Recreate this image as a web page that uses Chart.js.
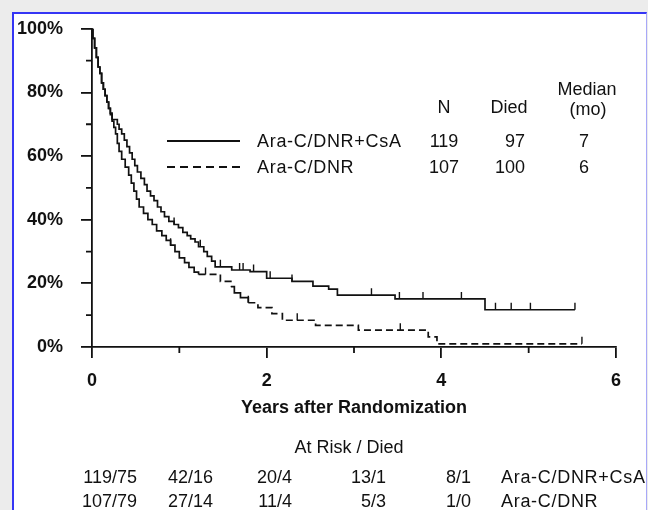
<!DOCTYPE html>
<html>
<head>
<meta charset="utf-8">
<script src="https://cdn.jsdelivr.net/npm/chart.js@4.4.1/dist/chart.umd.min.js"></script>
<style>
  html, body { margin: 0; padding: 0; }
  body { width: 648px; height: 510px; background: #ececec; position: relative; overflow: hidden;
         font-family: "Liberation Sans", Arial, sans-serif; color: #111; }
  #frame { position: absolute; left: 12px; top: 12px; width: 632px; height: 520px; background: #fff;
           border-left: 2px solid #3535f5; border-top: 2px solid #3535f5; border-right: 1px solid #a8a8f8; }
  #km { position: absolute; left: 0; top: 0; }
  .t { position: absolute; font-size: 18px; line-height: 18px; white-space: nowrap; }
  .g { letter-spacing: 0.7px; }
  .c { transform: translateX(-50%); }
  .r { transform: translateX(-100%); }
  .ln { position: absolute; height: 2px; }
</style>
</head>
<body>
<div id="frame"></div>
<canvas id="km" width="648" height="510"></canvas>
<div id="txt"></div>
<script>
// groups and summary table
const groups = ['Ara-C/DNR+CsA', 'Ara-C/DNR'];
const nPatients = [119, 107];
const nDied = [97, 100];
const medianMo = [7, 6];

// at risk / died under the axis
const riskCsA = ['119/75', '42/16', '20/4', '13/1', '8/1'];
const riskDNR = ['107/79', '27/14', '11/4', '5/3', '1/0'];

// Kaplan-Meier steps (years, % surviving)
const timeCsA = [0, 0.01, 0.03, 0.05, 0.07, 0.09, 0.11, 0.13, 0.15, 0.17, 0.19, 0.21, 0.23, 0.29, 0.31, 0.34, 0.37, 0.40,
  0.43, 0.46, 0.49, 0.52, 0.56, 0.60, 0.63, 0.67, 0.71, 0.75, 0.79, 0.83, 0.88, 0.94, 0.99, 1.04, 1.09, 1.13, 1.18,
  1.22, 1.28, 1.32, 1.37, 1.41, 1.60, 1.81, 2.00, 2.29, 2.53, 2.71, 2.81, 3.47, 4.50, 5.53];
const survCsA = [100, 97, 94, 91, 88, 86, 83, 81, 79, 77, 75, 73.5, 71.5, 70, 68.5, 67, 65, 63,
  61, 59, 57, 55, 53, 51, 49, 47.5, 46, 44, 42.5, 41, 39.5, 38.5, 37.5, 36, 35, 34, 33,
  31.5, 30, 28.5, 27, 25.2, 24.2, 23.7, 21.6, 20.6, 19.1, 18.2, 16.3, 15.1, 11.7, 11.7];
const censorCsA = [0.94, 1.24, 1.47, 1.69, 1.73, 1.85, 2.04, 2.29, 3.20, 3.52, 3.79, 4.23, 4.62, 4.80, 5.02, 5.53];

const timeDNR = [0, 0.01, 0.03, 0.05, 0.07, 0.09, 0.11, 0.13, 0.15, 0.17, 0.19, 0.21, 0.23, 0.25, 0.27, 0.29, 0.31,
  0.34, 0.38, 0.42, 0.45, 0.48, 0.51, 0.54, 0.59, 0.64, 0.69, 0.74, 0.80, 0.85, 0.90, 0.95, 1.00, 1.06, 1.11, 1.17,
  1.22, 1.47, 1.59, 1.63, 1.70, 1.79, 1.90, 2.06, 2.18, 2.56, 3.05, 3.85, 3.95, 5.61];
const survDNR = [100, 97, 94, 91, 88, 86, 83, 81, 79, 77, 75, 73, 71, 69, 67, 64, 61.5,
  59, 56.5, 54, 51.5, 49, 46.5, 44, 42, 40, 38.5, 36.5, 35, 33.5, 32, 30, 28, 26.5, 25, 23.5,
  22.8, 20.6, 19, 17, 15.5, 13.9, 12.4, 10.5, 8.4, 6.8, 5.3, 3.2, 1.0, 1.0];
const censorDNR = [0.90, 1.30, 1.79, 2.35, 3.53, 5.61];

const xMajor = [0, 2, 4, 6];
const xMinor = [1, 3, 5];
const yMinor = [10, 30, 50, 70, 90];

Chart.defaults.font.family = '"Liberation Sans", Arial, sans-serif';
Chart.defaults.color = '#111';

function levelAt(times, surv, t) {
  let v = surv[0];
  times.forEach((tt, i) => { if (tt <= t + 1e-9) v = surv[i]; });
  return v;
}
const pts = (times, surv) => times.map((t, i) => ({ x: t, y: surv[i] }));
const cens = (c, times, surv) => c.map(t => ({ x: t, y: levelAt(times, surv, t) }));

const minorTicks = {
  id: 'minorTicks',
  afterDraw(chart) {
    const { ctx, scales: { x, y } } = chart;
    ctx.save();
    ctx.strokeStyle = '#111';
    ctx.lineWidth = 1.8;
    ctx.beginPath();
    xMinor.forEach(v => {
      const px = x.getPixelForValue(v);
      ctx.moveTo(px, x.top);
      ctx.lineTo(px, x.top + 6);
    });
    yMinor.forEach(v => {
      const py = y.getPixelForValue(v);
      ctx.moveTo(y.right, py);
      ctx.lineTo(y.right - 6, py);
    });
    ctx.stroke();
    ctx.restore();
  }
};

// short stair steps look solid in the original, longer flats show the dashes
const dashLong = ctx => (ctx.p1.parsed.x - ctx.p0.parsed.x > 0.1 ? [7, 4] : []);

new Chart(document.getElementById('km'), {
  type: 'line',
  data: {
    datasets: [
      { label: groups[0], data: pts(timeCsA, survCsA), stepped: 'before', borderColor: '#111',
        borderWidth: 1.7, pointRadius: 0, fill: false },
      { label: groups[1], data: pts(timeDNR, survDNR), stepped: 'before', borderColor: '#111',
        borderWidth: 1.7, segment: { borderDash: dashLong }, pointRadius: 0, fill: false },
      { type: 'scatter', data: cens(censorCsA, timeCsA, survCsA), pointStyle: 'dash', rotation: -90,
        radius: 7, borderColor: '#111', borderWidth: 1.4, showLine: false },
      { type: 'scatter', data: cens(censorDNR, timeDNR, survDNR), pointStyle: 'dash', rotation: -90,
        radius: 7, borderColor: '#111', borderWidth: 1.4, showLine: false }
    ]
  },
  options: {
    responsive: false,
    animation: false,
    layout: { padding: { left: 0, right: 32, top: 21, bottom: 0 } },
    plugins: { legend: { display: false }, tooltip: { enabled: false } },
    scales: {
      x: {
        type: 'linear', min: 0, max: 6,
        afterBuildTicks: s => { s.ticks = xMajor.map(v => ({ value: v })); },
        afterFit: s => { s.height = 163; },
        ticks: { font: { size: 18, weight: 'bold' }, color: '#111', padding: 12, maxRotation: 0 },
        grid: { drawOnChartArea: false, drawTicks: true, tickLength: 11, color: '#111', lineWidth: 1.8 },
        border: { color: '#111', width: 1.8 },
        title: { display: true, text: 'Years after Randomization', color: '#111',
                 font: { size: 18, weight: 'bold' }, padding: { top: 0, bottom: 91 } }
      },
      y: {
        min: 0, max: 100,
        afterFit: s => { s.width = 92; },
        ticks: { stepSize: 20, callback: v => v + '%', font: { size: 18, weight: 'bold' }, color: '#111', padding: 18 },
        grid: { drawOnChartArea: false, drawTicks: true, tickLength: 11, color: '#111', lineWidth: 1.8 },
        border: { color: '#111', width: 1.8 }
      }
    }
  },
  plugins: [minorTicks]
});

// text blocks (legend table and at-risk table)
const box = document.getElementById('txt');
function put(text, x, top, cls) {
  const d = document.createElement('div');
  d.className = 't' + (cls ? ' ' + cls : '');
  d.textContent = text;
  d.style.left = x + 'px';
  d.style.top = top + 'px';
  box.appendChild(d);
}
function rule(x, y, w, dashed) {
  const d = document.createElement('div');
  d.className = 'ln';
  d.style.left = x + 'px';
  d.style.top = (y - 1) + 'px';
  d.style.width = w + 'px';
  d.style.background = dashed
    ? 'repeating-linear-gradient(to right, #111 0 8px, transparent 8px 13px)'
    : '#111';
  box.appendChild(d);
}

put('Median', 587, 80, 'c');
put('N', 444, 98, 'c');
put('Died', 509, 98, 'c');
put('(mo)', 588, 100, 'c');
const rowTop = [132, 158];
[0, 1].forEach(i => {
  rule(167, rowTop[i] + 9, 73, i === 1);
  put(groups[i], 257, rowTop[i], 'g');
  put(String(nPatients[i]), 444, rowTop[i], 'c');
  put(String(nDied[i]), 525, rowTop[i], 'r');
  put(String(medianMo[i]), 584, rowTop[i], 'c');
});

put('At Risk / Died', 349, 438, 'c');
const riskRight = [137, 213, 292, 386, 471];
const riskTop = [468, 492];
[riskCsA, riskDNR].forEach((row, i) => {
  row.forEach((s, j) => put(s, riskRight[j], riskTop[i], 'r'));
  put(groups[i], 501, riskTop[i], 'g');
});
</script>
</body>
</html>
